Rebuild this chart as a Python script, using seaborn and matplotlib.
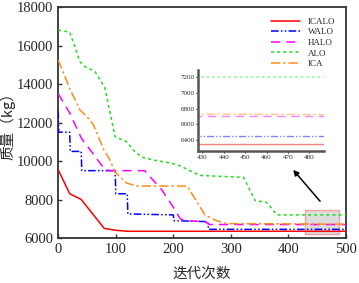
import pandas as pd
import seaborn as sns
import matplotlib.pyplot as plt
import matplotlib.patches as patches

# curve breakpoints
icalo_x = [0, 20, 40, 80, 100, 120, 500]
icalo_y = [9550, 8300, 8000, 6500, 6400, 6350, 6350]

walo_x = [0, 1, 20, 21, 40, 41, 99, 100, 120, 121, 200, 201, 260, 261, 500]
walo_y = [12600, 11500, 11500, 10500, 10500, 9500, 9500, 8300, 8300, 7250, 7200, 6900, 6850, 6450, 6450]

halo_x = [0, 20, 40, 60, 80, 90, 150, 180, 200, 212, 220, 255, 262, 500]
halo_y = [13500, 12500, 11200, 10400, 9600, 9500, 9500, 8500, 7600, 7000, 6900, 6850, 6700, 6700]

alo_x = [0, 20, 38, 47, 64, 81, 99, 119, 130, 145, 166, 194, 212, 235, 247, 322, 342, 362, 380, 500]
alo_y = [16800, 16700, 15150, 14900, 14650, 13800, 11250, 11000, 10580, 10200, 10050, 9900, 9750,
         9400, 9250, 9150, 7950, 7850, 7200, 7200]

ica_x = [0, 21, 38, 50, 61, 79, 90, 99, 119, 137, 224, 255, 275, 293, 500]
ica_y = [15250, 13700, 12650, 12300, 11900, 10600, 10050, 9420, 8850, 8700, 8700, 7200, 6900, 6750, 6720]

names = ['ICALO', 'WALO', 'HALO', 'ALO', 'ICA']
xs = [icalo_x, walo_x, halo_x, alo_x, ica_x]
ys = [icalo_y, walo_y, halo_y, alo_y, ica_y]

colors = ['#ff0000', '#0000ff', '#ff00ff', '#22dd22', '#ff8c1a']
styles = ['-', (0, (5, 1.5, 1, 1.5, 1, 1.5)), (0, (6, 4)), (0, (2, 2)), (0, (6, 2, 1.5, 2))]

sns.set_style("ticks")
plt.rcParams['font.family'] = ['Liberation Serif', 'Noto Sans CJK SC']
plt.rcParams['axes.unicode_minus'] = False

fig = plt.figure(figsize=(3.59, 2.83), dpi=100)
ax = fig.add_axes([0.162, 0.159, 0.802, 0.816])

for name, x, y, c, ls in zip(names, xs, ys, colors, styles):
    df = pd.DataFrame({'iter': x, 'mass': y})
    sns.lineplot(data=df, x='iter', y='mass', ax=ax, color=c, linestyle=ls, lw=1.1,
                 estimator=None, sort=False, label=name, zorder=3)

ax.set_xlim(0, 500)
ax.set_ylim(6000, 18000)
ax.set_xticks([0, 100, 200, 300, 400, 500])
ax.set_yticks(range(6000, 18001, 2000))
ax.tick_params(direction='in', labelsize=10.5, length=3, width=1, color='#333333')
for s in ax.spines.values():
    s.set_color('#333333')
    s.set_linewidth(1.3)
ax.set_xlabel('迭代次数', fontsize=10.5, family=['Noto Sans CJK SC'], labelpad=8)
ax.set_ylabel('质量（kg）', fontsize=10.5, family=['Noto Sans CJK SC', 'Liberation Serif'], labelpad=1)

leg = ax.legend(loc='upper right', frameon=False, fontsize=6.5, handlelength=3.2,
                labelspacing=0.25, bbox_to_anchor=(0.99, 0.99))

# zoom window marker and arrow
rect = patches.Rectangle((428, 6200), 59, 1250, facecolor='#dcdcdc', edgecolor='#f4a0a0',
                         lw=1, zorder=1)
ax.add_patch(rect)
ax.annotate('', xy=(405, 9650), xytext=(458, 7800),
            arrowprops=dict(arrowstyle='-|>', color='black', lw=1.1, mutation_scale=8))

# inset
axin = fig.add_axes([0.552, 0.466, 0.351, 0.287])
for name, x, y, c, ls in zip(names, xs, ys, colors, styles):
    df = pd.DataFrame({'iter': x, 'mass': y})
    sns.lineplot(data=df, x='iter', y='mass', ax=axin, color=c, linestyle=ls, lw=1.0,
                 alpha=0.5, estimator=None, sort=False, legend=False)
axin.set_xlim(428, 487)
axin.set_ylim(6260, 7290)
axin.set_xticks(range(430, 481, 10))
axin.set_yticks(range(6400, 7201, 200))
axin.set_xlabel('')
axin.set_ylabel('')
axin.tick_params(labelsize=5, length=1.5, width=0.8, pad=1)
axin.spines['top'].set_visible(False)
axin.spines['right'].set_visible(False)
for s in ['left', 'bottom']:
    axin.spines[s].set_color('#555555')
    axin.spines[s].set_linewidth(1.8)
axin.patch.set_alpha(0)

plt.savefig('out.png', dpi=100)
